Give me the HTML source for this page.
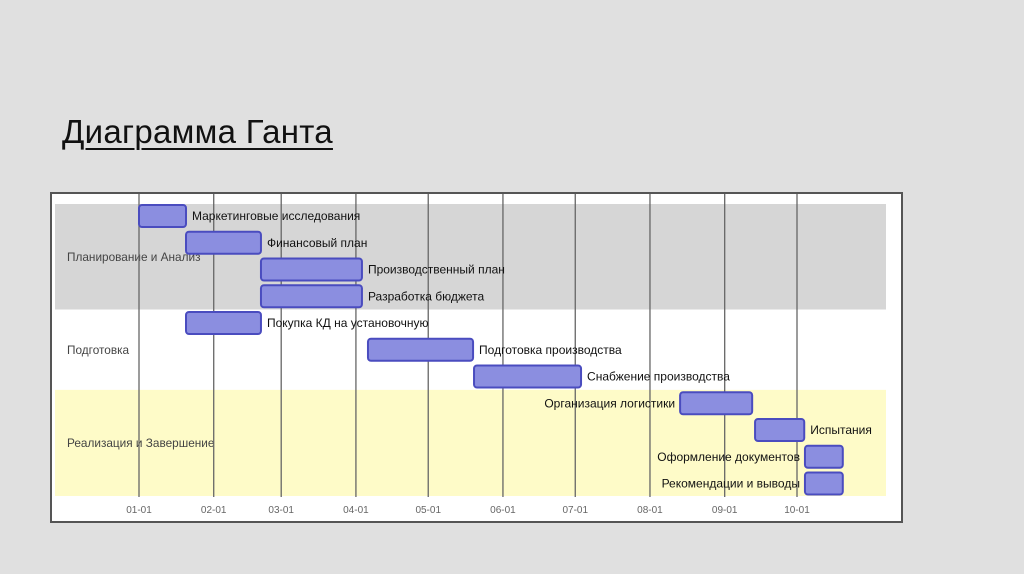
<!DOCTYPE html>
<html><head><meta charset="utf-8"><style>
html,body{margin:0;padding:0;width:1024px;height:574px;background:#e0e0e0;overflow:hidden;font-family:"Liberation Sans","DejaVu Sans",sans-serif}
#title{position:absolute;left:62px;top:113px;font-size:33px;color:#111;text-decoration:underline;text-decoration-thickness:2px;text-underline-offset:5px;letter-spacing:0.3px}
#chart{position:absolute;left:50px;top:192px}
</style></head><body>
<div id="title">Диаграмма Ганта</div>
<svg id="chart" width="855" height="334"></svg>
<script>
const tasks=["Маркетинговые исследования","Финансовый план","Производственный план","Разработка бюджета","Покупка КД на установочную","Подготовка производства","Снабжение производства","Организация логистики","Испытания","Оформление документов","Рекомендации и выводы"];
const startDays=[0,19.5,50.6,50.6,19.5,95,139,224.5,255.6,276.3,276.3];
const endDays=[19.5,50.6,92.5,92.5,50.6,138.6,183.4,254.4,276,292,292];
const labelLeft=[0,0,0,0,0,0,0,1,0,1,1];
const groups=["Планирование и Анализ","Подготовка","Реализация и Завершение"];
const groupRows=[[0,4],[4,7],[7,11]];
const tickLabels=["01-01","02-01","03-01","04-01","05-01","06-01","07-01","08-01","09-01","10-01"];
const tickDays=[0,31,59,90,120,151,181,212,243,273];

const svg=document.getElementById('chart');
const NS='http://www.w3.org/2000/svg';
const ox=-50,oy=-192;
const x=d=>139+ox+d*(797-139)/273;
const rowH=26.75, row0=216+oy;
const y=i=>row0+i*rowH;
function mk(t,a){const e=document.createElementNS(NS,t);for(const k in a)e.setAttribute(k,a[k]);svg.appendChild(e);return e;}
let e=mk('rect',{x:1,y:1,width:851,height:329,fill:'#fff',stroke:'#555','stroke-width':2});


const bandCol=['#d6d6d6','#ffffff','#fefbc8'];
groups.forEach((g,gi)=>{
  const [a,b]=groupRows[gi];
  const top=gi==0?204+oy:y(a)-rowH/2, bot=gi==2?496+oy:y(b)-rowH/2;
  let r=mk('rect',{x:55+ox,y:top,width:831,height:bot-top,fill:bandCol[gi]});
  
  
  let t=mk('text',{x:67+ox,y:(top+bot)/2+4,'font-size':11.8,fill:'#444'});
  t.textContent=g;
  
  
});
tickDays.forEach((d,i)=>{
  let l=mk('line',{x1:x(d),x2:x(d),y1:194+oy,y2:497+oy,stroke:'#666','stroke-width':1.3});
  
  
  let t=mk('text',{x:x(d),y:513+oy,'font-size':10,fill:'#666','text-anchor':'middle'});
  t.textContent=tickLabels[i];
  
  
});
tasks.forEach((n,i)=>{
  const x0=x(startDays[i]),x1=x(endDays[i]);
  let r=mk('rect',{x:x0,y:y(i)-11,width:x1-x0,height:22,rx:3,fill:'#8b8ee0',stroke:'#4a4cbf','stroke-width':2});
  
  
  let t=mk('text',{x:labelLeft[i]?x0-5:x1+6,y:y(i)+4,'font-size':12,fill:'#111','text-anchor':labelLeft[i]?'end':'start'});
  t.textContent=n;
  
  
});
</script>
</body></html>
